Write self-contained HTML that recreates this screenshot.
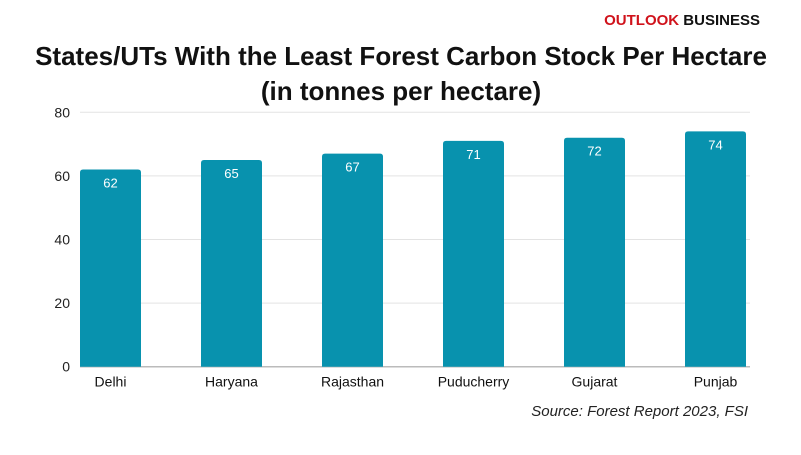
<!DOCTYPE html>
<html><head><meta charset="utf-8"><style>
body{margin:0;background:#fff;width:801px;height:450px;overflow:hidden;font-family:"Liberation Sans",sans-serif;}
</style></head><body>
<svg width="801" height="450" id="svg">
<text x="760" y="25" text-anchor="end" font-size="15" font-weight="bold"><tspan fill="#d0121b">OUTLOOK</tspan><tspan fill="#111"> BUSINESS</tspan></text>
<text x="401" y="65" text-anchor="middle" font-size="26" font-weight="bold" fill="#111">States/UTs With the Least Forest Carbon Stock Per Hectare</text>
<text x="401" y="100" text-anchor="middle" font-size="26" font-weight="bold" fill="#111">(in tonnes per hectare)</text>
<text x="748" y="416" text-anchor="end" font-size="15" font-style="italic" fill="#222">Source: Forest Report 2023, FSI</text>
<g id="plot"></g>
</svg>
<script>
const categories=["Delhi","Haryana","Rajasthan","Puducherry","Gujarat","Punjab"];
const values=[62,65,67,71,72,74];
const ticks=[0,20,40,60,80];
const y0=366.7,yTop=112.3,yMax=80,left=80,right=750,step=121,bw=61;
const y=v=>y0-(v/yMax)*(y0-yTop);
const x=i=>left+i*step;
const g=document.getElementById('plot');
const NS='http://www.w3.org/2000/svg';
function mk(t,a){const e=document.createElementNS(NS,t);for(const k in a)e.setAttribute(k,a[k]);g.appendChild(e);return e;}
ticks.forEach(t=>{
 const l=mk('line',{x1:left,x2:right,y1:y(t),y2:y(t),stroke:t===0?'#bbb':'#e3e3e3','stroke-width':t===0?1.5:1});
 
 
 const tx=mk('text',{x:70,y:y(t)+5,'text-anchor':'end','font-size':14,fill:'#222'});
 tx.textContent=t;
 
 
});
values.forEach((v,i)=>{
 const r=mk('path',{d:`M${x(i)},${y0} V${y(v)+3} Q${x(i)},${y(v)} ${x(i)+3},${y(v)} H${x(i)+bw-3} Q${x(i)+bw},${y(v)} ${x(i)+bw},${y(v)+3} V${y0} Z`,fill:'#0892ae'});
 
 
 const vt=mk('text',{x:x(i)+bw/2,y:y(v)+18,'text-anchor':'middle','font-size':13,fill:'#fff'});
 vt.textContent=v;
 
 
 const ct=mk('text',{x:x(i)+bw/2,y:y0+20,'text-anchor':'middle','font-size':14,fill:'#111'});
 ct.textContent=categories[i];
 
 
});
</script>
</body></html>
